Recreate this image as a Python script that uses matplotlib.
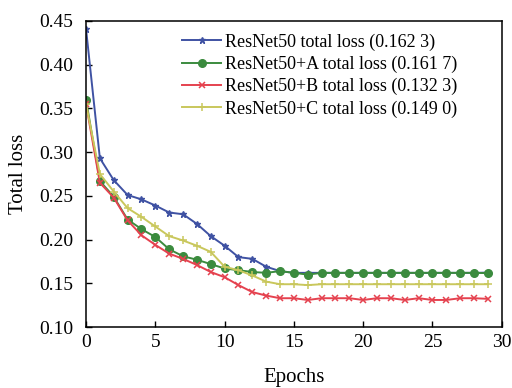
import numpy as np
import matplotlib.pyplot as plt

plt.rcParams["font.family"] = ["Liberation Serif", "DejaVu Serif"]
plt.rcParams["font.size"] = 14

epochs = np.arange(30)

resnet50 = [0.441, 0.293, 0.268, 0.251, 0.246, 0.239, 0.231, 0.229, 0.218, 0.204,
            0.193, 0.180, 0.178, 0.169, 0.164, 0.162, 0.162, 0.162, 0.162, 0.162,
            0.162, 0.162, 0.162, 0.162, 0.162, 0.162, 0.162, 0.162, 0.162, 0.1623]
resnet50_a = [0.360, 0.267, 0.249, 0.223, 0.212, 0.203, 0.189, 0.181, 0.177, 0.172,
              0.167, 0.165, 0.163, 0.162, 0.164, 0.162, 0.160, 0.162, 0.162, 0.162,
              0.162, 0.162, 0.162, 0.162, 0.162, 0.162, 0.162, 0.162, 0.162, 0.1617]
resnet50_b = [0.355, 0.265, 0.248, 0.222, 0.205, 0.194, 0.184, 0.178, 0.171, 0.163,
              0.157, 0.148, 0.140, 0.136, 0.133, 0.133, 0.131, 0.133, 0.133, 0.133,
              0.131, 0.133, 0.133, 0.131, 0.133, 0.131, 0.131, 0.133, 0.133, 0.1323]
resnet50_c = [0.355, 0.275, 0.255, 0.236, 0.226, 0.215, 0.204, 0.199, 0.193, 0.186,
              0.169, 0.165, 0.159, 0.152, 0.149, 0.149, 0.148, 0.149, 0.149, 0.149,
              0.149, 0.149, 0.149, 0.149, 0.149, 0.149, 0.149, 0.149, 0.149, 0.1490]

labels = ["ResNet50 total loss (0.162 3)",
          "ResNet50+A total loss (0.161 7)",
          "ResNet50+B total loss (0.132 3)",
          "ResNet50+C total loss (0.149 0)"]

fig = plt.figure(figsize=(5.12, 3.88), dpi=100)
ax = fig.add_axes([0.168, 0.157, 0.812, 0.789])

ax.plot(epochs, resnet50, color="#3f52a3", marker="*", markersize=5, lw=1.4, label=labels[0])
ax.plot(epochs, resnet50_a, color="#3b8b3e", marker="o", markersize=5.5, lw=1.4, label=labels[1])
ax.plot(epochs, resnet50_b, color="#e5424f", marker="x", markersize=4.5, mew=1.1, lw=1.4, label=labels[2])
ax.plot(epochs, resnet50_c, color="#c9c75c", marker="+", markersize=6, mew=1.1, lw=1.4, label=labels[3])

ax.set_xlim(0, 30)
ax.set_ylim(0.10, 0.45)
ax.set_xticks(np.arange(0, 31, 5))
ax.set_yticks(np.arange(0.10, 0.451, 0.05))
ax.set_yticklabels([f"{v:.2f}" for v in np.arange(0.10, 0.451, 0.05)])
ax.tick_params(direction="in", length=4, width=1, labelsize=14)
ax.tick_params(axis="y", pad=9)
ax.tick_params(axis="x", pad=5)
for s in ax.spines.values():
    s.set_linewidth(1.1)

ax.set_xlabel("Epochs", fontsize=15, labelpad=12)
ax.set_ylabel("Total loss", fontsize=15, labelpad=8)

ax.legend(loc="upper left", bbox_to_anchor=(0.214, 0.983), frameon=False, fontsize=13,
          handlelength=2.15, handletextpad=0.2, labelspacing=0.28, borderaxespad=0)

fig.savefig("out.png", dpi=100)
